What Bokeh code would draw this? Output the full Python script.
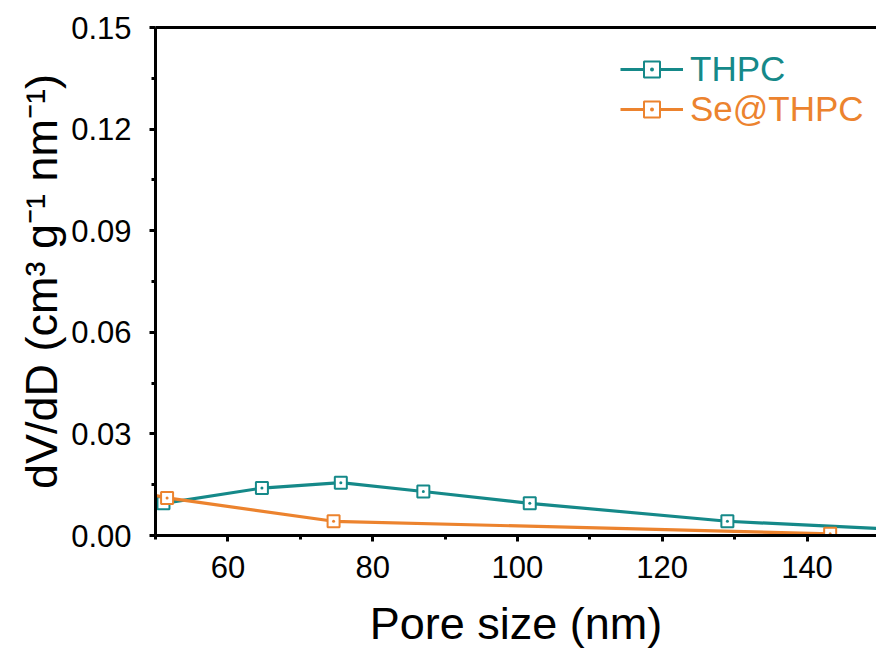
from bokeh.plotting import figure
from bokeh.models import (LinearAxis, FixedTicker, Legend, LegendItem, Range1d)
from bokeh.embed import file_html
from bokeh.resources import INLINE

# ---- data ----
thpc_x = [51.1, 64.7, 75.6, 87.0, 101.7, 129.0, 165.0]
thpc_y = [0.0095, 0.0140, 0.0156, 0.0130, 0.0095, 0.0042, 0.0005]
se_x = [47.5, 51.6, 74.6, 143.2]
se_y = [0.0130, 0.0111, 0.0042, 0.0005]

x_major = [60, 80, 100, 120, 140]
x_minor = [50, 70, 90, 110, 130, 150]
y_major = [0.00, 0.03, 0.06, 0.09, 0.12, 0.15]
y_minor = [0.015, 0.045, 0.075, 0.105, 0.135]

TEAL = "#158989"
ORANGE = "#EC832E"
FONT = "Liberation Sans"

p = figure(width=876, height=652, output_backend="svg", toolbar_location=None,
           x_range=Range1d(50, 149.6), y_range=Range1d(0, 0.15),
           min_border_left=155, min_border_right=0, min_border_top=27,
           min_border_bottom=117)
p.outline_line_color = None
p.grid.visible = False
p.background_fill_color = "white"
p.border_fill_color = "white"

def style_axis(ax):
    ax.axis_line_width = 3
    ax.axis_line_color = "black"
    ax.major_tick_line_width = 3
    ax.minor_tick_line_width = 3
    ax.major_tick_in = 0
    ax.major_tick_out = 6
    ax.minor_tick_in = 0
    ax.minor_tick_out = 4
    ax.major_label_text_font = FONT
    ax.major_label_text_font_size = "31px"
    ax.major_label_text_color = "black"
    ax.axis_label_text_font = FONT
    ax.axis_label_text_font_size = "45px"
    ax.axis_label_text_font_style = "normal"
    ax.axis_label_text_color = "black"

xa = p.xaxis[0]
style_axis(xa)
xa.ticker = FixedTicker(ticks=x_major, minor_ticks=x_minor)
xa.axis_label = "Pore size (nm)"
xa.major_label_standoff = 14
xa.axis_label_standoff = 17

ya = p.yaxis[0]
style_axis(ya)
ya.ticker = FixedTicker(ticks=y_major, minor_ticks=y_minor)
ya.major_label_overrides = {v: f"{v:.2f}" for v in y_major}
ya.axis_label = "dV/dD (cm\u00b3 g\u207b\u00b9 nm\u207b\u00b9)"
ya.major_label_standoff = 18
ya.axis_label_standoff = 1

top = LinearAxis(ticker=FixedTicker(ticks=[]), axis_line_width=3,
                 major_tick_line_color=None, minor_tick_line_color=None,
                 major_label_text_font_size="0px", major_label_standoff=0)
p.add_layout(top, "above")

l1 = p.line(thpc_x, thpc_y, line_color=TEAL, line_width=3.2)
m1 = p.scatter(thpc_x, thpc_y, marker="square_dot", size=12, line_color=TEAL,
               line_width=2, fill_color="white")
l2 = p.line(se_x, se_y, line_color=ORANGE, line_width=3.2)
m2 = p.scatter(se_x, se_y, marker="square_dot", size=12, line_color=ORANGE,
               line_width=2, fill_color="white")

def make_legend(label, renderers, color, loc):
    lg = Legend(items=[LegendItem(label=label, renderers=renderers)],
                location=loc, padding=0, margin=0, spacing=0,
                border_line_color=None, background_fill_alpha=0,
                glyph_width=63, glyph_height=40, label_height=40,
                label_standoff=7, label_text_font=FONT,
                label_text_font_size="35px", label_text_color=color)
    p.add_layout(lg)

make_legend("THPC", [l1, m1], TEAL, (465, 446))
make_legend("Se@THPC", [l2, m2], ORANGE, (465, 406))

open("out.html", "w").write(file_html(p, INLINE))
